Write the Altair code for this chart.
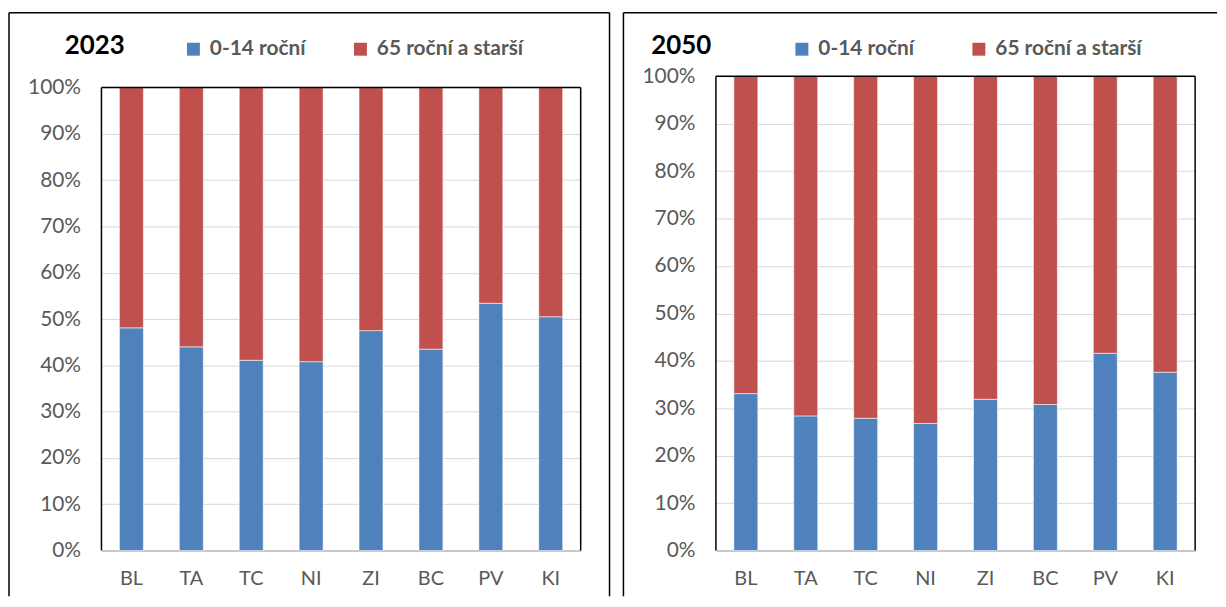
import altair as alt
import pandas as pd

regions = ["BL", "TA", "TC", "NI", "ZI", "BC", "PV", "KI"]
series = ["0-14 roční", "65 roční a starší"]

young_2023 = [48.1, 44.0, 41.1, 40.8, 47.5, 43.5, 53.4, 50.5]
old_2023 = [51.9, 56.0, 58.9, 59.2, 52.5, 56.5, 46.6, 49.5]
young_2050 = [33.1, 28.4, 27.9, 26.8, 31.9, 30.8, 41.6, 37.6]
old_2050 = [66.9, 71.6, 72.1, 73.2, 68.1, 69.2, 58.4, 62.4]

BLUE = "#4F81BD"
RED = "#C0504D"
GREY_TXT = "#595959"
FONT = "Lato"

W, H = 482, 477


def make_df(young, old):
    rows = []
    for r, y, o in zip(regions, young, old):
        rows.append({"region": r, "group": series[0], "value": y, "ord": 0})
        rows.append({"region": r, "group": series[1], "value": o, "ord": 1})
    return pd.DataFrame(rows)


one = pd.DataFrame({"k": [0]})


def panel(young, old, year, ymax, title_x, legend_x, col_pad, frame_right, right_edge=True):
    df = make_df(young, old)
    bars = alt.Chart(df).mark_bar(
        stroke="#FFFFFF", strokeOpacity=0.55, strokeWidth=1
    ).encode(
        x=alt.X("region:N", sort=regions, title=None,
                scale=alt.Scale(paddingInner=0.6, paddingOuter=0.3),
                axis=alt.Axis(labelAngle=0, ticks=False, domain=True,
                              domainColor="#C8C8C8", domainWidth=2,
                              labelFont=FONT, labelFontSize=20, labelColor=GREY_TXT,
                              labelPadding=18, grid=False)),
        y=alt.Y("value:Q", stack="normalize", title=None,
                scale=alt.Scale(domain=[0, ymax], nice=False, zero=True),
                axis=alt.Axis(values=[i / 10 for i in range(11)], format="%",
                              ticks=False, domain=False, grid=True,
                              gridColor="#D9D9D9", gridWidth=1,
                              labelFont=FONT, labelFontSize=21, labelColor=GREY_TXT,
                              labelPadding=21)),
        color=alt.Color("group:N", scale=alt.Scale(domain=series, range=[BLUE, RED]),
                        legend=alt.Legend(orient="none", legendX=legend_x, legendY=-38,
                                          direction="horizontal", title=None,
                                          symbolType="square", symbolSize=169,
                                          symbolStrokeWidth=0, labelFont=FONT,
                                          labelFontWeight="bold", labelFontSize=21,
                                          labelColor=GREY_TXT, labelOffset=6,
                                          columnPadding=col_pad, padding=0,
                                          labelLimit=400)),
        order=alt.Order("ord:Q"),
    )
    base = alt.Chart(one)
    top_line = base.mark_rule(color="black", strokeWidth=1.5).encode(
        y=alt.datum(1), x=alt.value(0), x2=alt.value(W))
    left_line = base.mark_rule(color="black", strokeWidth=1.5).encode(
        x=alt.value(0), y=alt.datum(0), y2=alt.datum(1))
    right_line = base.mark_rule(color="black", strokeWidth=1.5).encode(
        x=alt.value(W), y=alt.datum(0), y2=alt.datum(1))
    title = base.mark_text(text=year, font=FONT, fontWeight="bold", fontSize=26,
                           color="black", align="left", baseline="middle").encode(
        x=alt.value(title_x), y=alt.value(-30))
    f_top = base.mark_rule(color="black", strokeWidth=1.5).encode(
        x=alt.value(-93), x2=alt.value(frame_right), y=alt.value(-64))
    f_left = base.mark_rule(color="black", strokeWidth=1.5).encode(
        x=alt.value(-93), y=alt.value(-64), y2=alt.value(523))
    layers = [bars, top_line, left_line, right_line, title, f_top, f_left]
    if right_edge:
        f_right = base.mark_rule(color="black", strokeWidth=1.5).encode(
            x=alt.value(frame_right), y=alt.value(-64), y2=alt.value(523))
        layers.append(f_right)
    return alt.layer(*layers).properties(width=W, height=H)


left = panel(young_2023, old_2023, "2023", 477 / 465.7, -37, 82, 44, 511, True)
right = panel(young_2050, old_2050, "2050", 1.0, -65, 76, 54, 504, False)

chart = alt.hconcat(left, right, spacing=12).resolve_legend(
    color="independent"
).resolve_scale(color="independent").properties(
    padding={"left": 0, "top": 2, "right": 0, "bottom": 0},
    background="white",
).configure_view(stroke=None)

chart.save("out.html", embed_options={"renderer": "svg", "actions": False})
